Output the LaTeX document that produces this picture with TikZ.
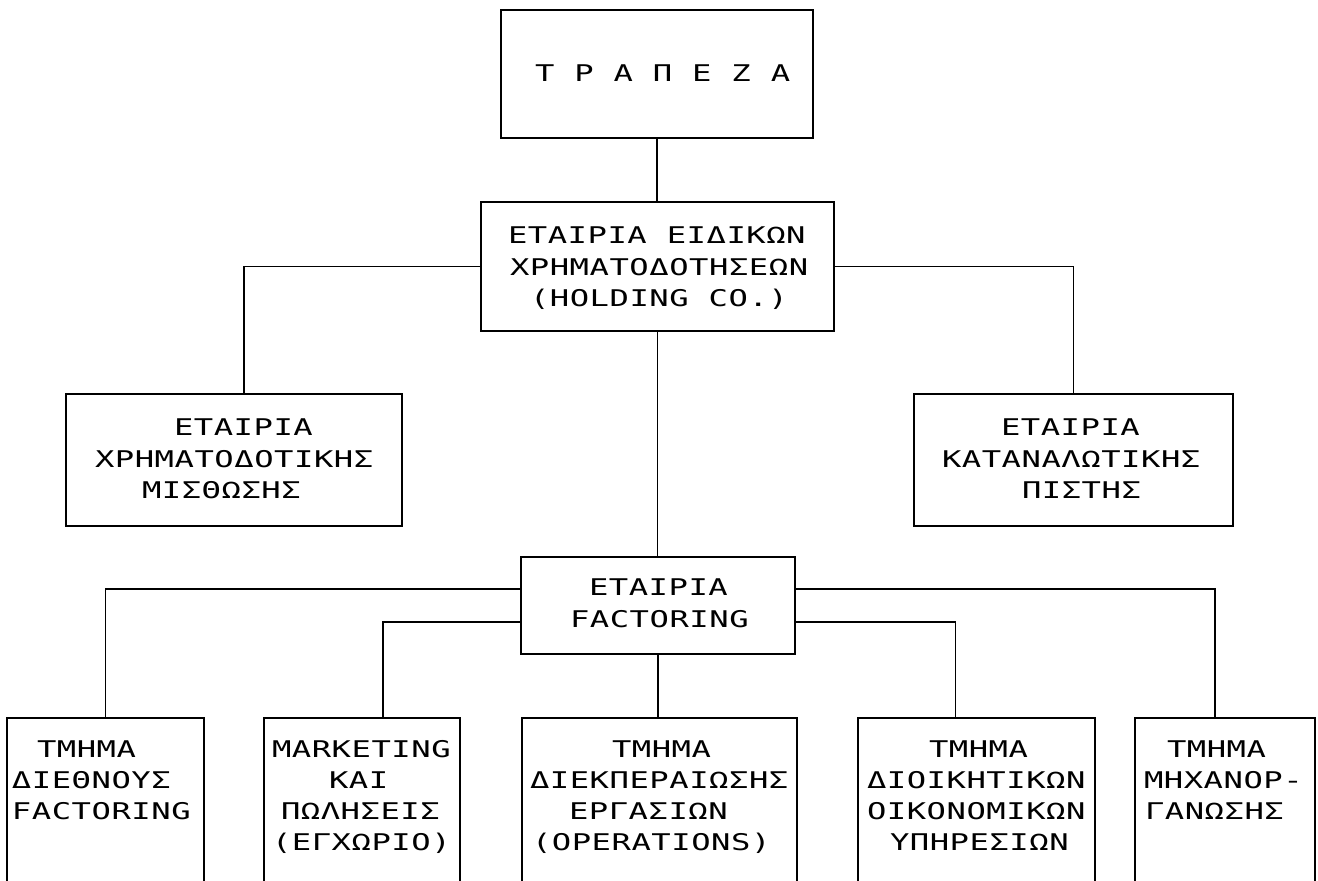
\documentclass[tikz,border=0pt]{standalone}
\usepackage{fontspec}
\usetikzlibrary{fit}
\newfontfamily\plotfont{DejaVu Sans Mono}[FakeStretch=1.4,LetterSpace=2.3]
\tikzset{
  box/.style={draw, line width=2.4pt, rectangle, inner sep=0pt, outer sep=0pt},
  link/.style={line width=1.3pt},
  lbl/.style={font=\plotfont\fontsize{23pt}{23pt}\selectfont, inner sep=0pt, outer sep=0pt, anchor=base west, xshift=-3pt}
}
\begin{document}
\begin{tikzpicture}[x=1pt,y=-1pt]
\clip (0,0) rectangle (1318,881);
\fill[white] (0,0) rectangle (1318,881);
% boxes
\node[box, fit={(501,10) (813,138)}] (bank) {};
\node[box, fit={(481,202) (834,331)}] (holding) {};
\node[box, fit={(66,394) (402,526)}] (leasing) {};
\node[box, fit={(914,394) (1233,526)}] (consumer) {};
\node[box, fit={(521,557) (795,654)}] (factoring) {};
\node[box, fit={(7,718) (204,905)}] (d1) {};
\node[box, fit={(264,718) (460,905)}] (d2) {};
\node[box, fit={(522,718) (797,905)}] (d3) {};
\node[box, fit={(858,718) (1095,905)}] (d4) {};
\node[box, fit={(1135,718) (1315,905)}] (d5) {};
% connectors
\draw[link] (bank.south) -- (bank.south |- holding.north);
\draw[link] (holding.west) -| ([xshift=10pt]leasing.north);
\draw[link] (holding.east) -| (consumer.north);
\draw[link] (holding.south) -- (holding.south |- factoring.north);
\draw[link] ([yshift=16.5pt]factoring.west) -| (d1.north);
\draw[link] ([yshift=-16.5pt]factoring.west) -| ([xshift=21pt]d2.north);
\draw[link] (factoring.south) -- (factoring.south |- d3.north);
\draw[link] ([yshift=-16.5pt]factoring.east) -| ([xshift=-21pt]d4.north);
\draw[link] ([yshift=16.5pt]factoring.east) -| ([xshift=-10pt]d5.north);
% texts
\node[lbl] (t0) at (538,81) {Τ Ρ Α Π Ε Ζ Α};
\node[lbl] (h1) at (511,243) {ΕΤΑΙΡΙΑ ΕΙΔΙΚΩΝ};
\node[lbl] (h2) at (513,275) {ΧΡΗΜΑΤΟΔΟΤΗΣΕΩΝ};
\node[lbl] (h3) at (533,306) {(HOLDING CO.)};
\node[lbl] (l1) at (177,435) {ΕΤΑΙΡΙΑ};
\node[lbl] (l2) at (98,467) {ΧΡΗΜΑΤΟΔΟΤΙΚΗΣ};
\node[lbl] (l3) at (145,498) {ΜΙΣΘΩΣΗΣ};
\node[lbl] (r1) at (1004,435) {ΕΤΑΙΡΙΑ};
\node[lbl] (r2) at (945,467) {ΚΑΤΑΝΑΛΩΤΙΚΗΣ};
\node[lbl] (r3) at (1025,498) {ΠΙΣΤΗΣ};
\node[lbl] (f1) at (592,595) {ΕΤΑΙΡΙΑ};
\node[lbl] (f2) at (573,627) {FACTORING};
\node[lbl] (a1) at (40,757) {ΤΜΗΜΑ};
\node[lbl] (a2) at (15,788) {ΔΙΕΘΝΟΥΣ};
\node[lbl] (a3) at (15,819) {FACTORING};
\node[lbl] (b1) at (275,757) {MARKETING};
\node[lbl] (b2) at (332,788) {ΚΑΙ};
\node[lbl] (b3) at (284,819) {ΠΩΛΗΣΕΙΣ};
\node[lbl] (b4) at (275,850) {(ΕΓΧΩΡΙΟ)};
\node[lbl] (c1) at (615,757) {ΤΜΗΜΑ};
\node[lbl] (c2) at (533,788) {ΔΙΕΚΠΕΡΑΙΩΣΗΣ};
\node[lbl] (c3) at (572,819) {ΕΡΓΑΣΙΩΝ};
\node[lbl] (c4) at (535,850) {(OPERATIONS)};
\node[lbl] (e1) at (932,757) {ΤΜΗΜΑ};
\node[lbl] (e2) at (870,788) {ΔΙΟΙΚΗΤΙΚΩΝ};
\node[lbl] (e3) at (870,819) {ΟΙΚΟΝΟΜΙΚΩΝ};
\node[lbl] (e4) at (893,850) {ΥΠΗΡΕΣΙΩΝ};
\node[lbl] (g1) at (1170,757) {ΤΜΗΜΑ};
\node[lbl] (g2) at (1147,788) {ΜΗΧΑΝΟΡ-};
\node[lbl] (g3) at (1148,819) {ΓΑΝΩΣΗΣ};
\end{tikzpicture}
\end{document}
